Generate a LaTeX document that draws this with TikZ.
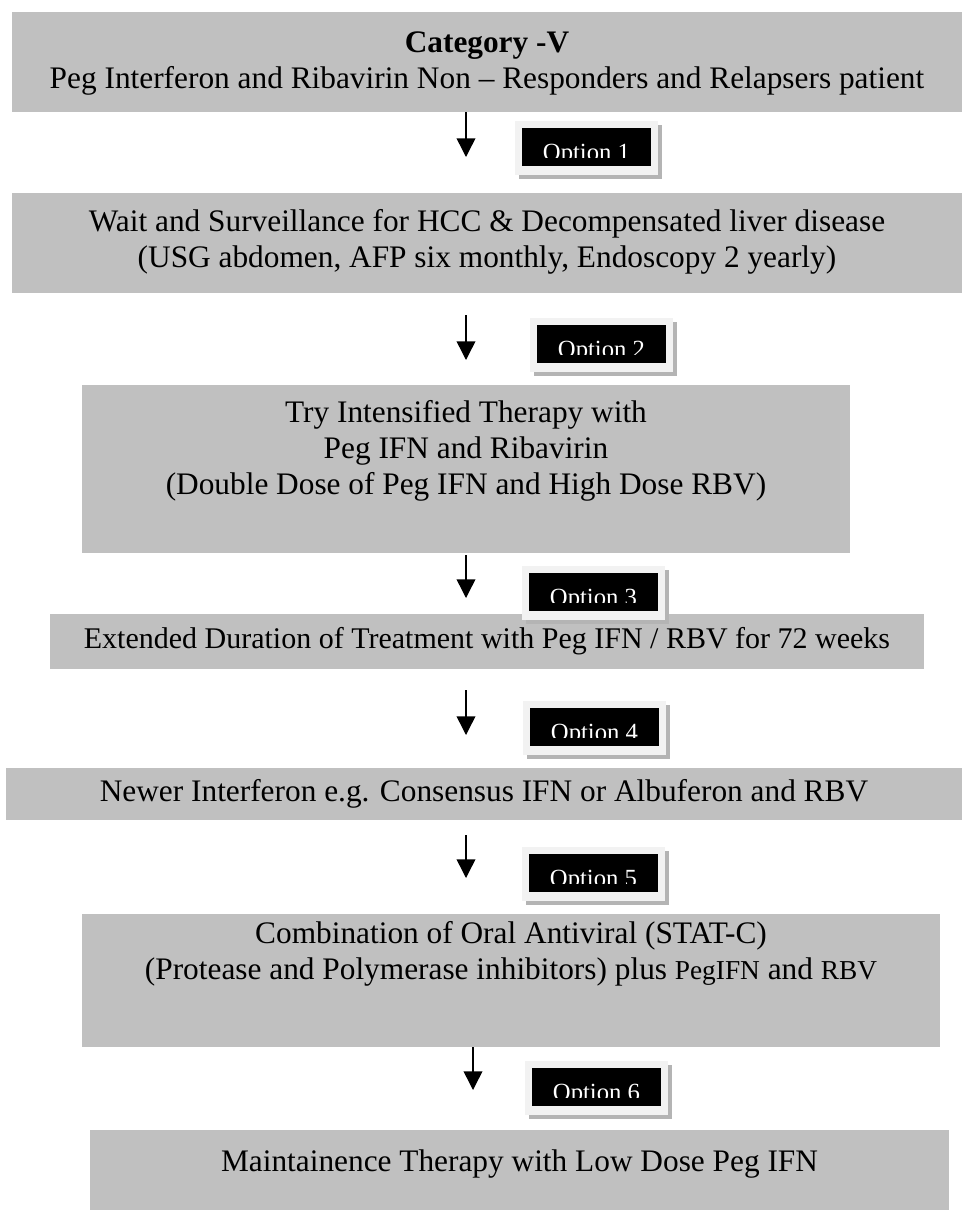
\documentclass[tikz,border=0pt]{standalone}
\usepackage{fontspec}
\setmainfont{Liberation Serif}
\usetikzlibrary{arrows.meta,positioning}
\definecolor{boxgray}{HTML}{C0C0C0}
\definecolor{optlt}{HTML}{F2F2F2}
\definecolor{optshd}{HTML}{B4B4B4}
\newcommand{\pxl}[1]{#1*0.75pt}
\newcommand{\bodyfont}{\fontsize{23.5}{27}\selectfont}
\newcommand{\extfont}{\fontsize{22.5}{27}\selectfont}
\newcommand{\smlfont}{\fontsize{20.5}{27}\selectfont}
\newcommand{\optfont}{\fontsize{18.5}{20}\selectfont}
\tikzset{
  box/.style={fill=boxgray,inner sep=0pt,align=center,font=\bodyfont},
  txt/.style={inner sep=0pt,align=center,font=\bodyfont},
  optframe/.style={fill=optlt,inner sep=0pt,minimum width=\pxl{143},minimum height=\pxl{54},anchor=north west},
  optblack/.style={fill=black,inner sep=0pt,minimum width=\pxl{129},minimum height=\pxl{38},anchor=north west},
  opttxt/.style={font=\optfont,text=white,anchor=base,inner sep=0pt},
  ar/.style={-{Triangle[length=14pt,width=14pt]},line width=1.1pt},
}

\begin{document}
\begin{tikzpicture}[x=0.75pt,y=-0.75pt]
\useasboundingbox (0,0) rectangle (962,1211);
% grey steps
\node[box,minimum width=\pxl{950},minimum height=\pxl{100}] (cat) at (487,62) {};
\node[txt] (cat-t) at (487,64) {\textbf{Category -V}\\Peg Interferon and Ribavirin Non – Responders and Relapsers patient};
\node[box,minimum width=\pxl{950},minimum height=\pxl{100}] (wait) at (487,243) {};
\node[txt] (wait-t) at (487,242) {Wait and Surveillance for HCC \& Decompensated liver disease\\(USG abdomen, AFP six monthly, Endoscopy 2 yearly)};
\node[box,minimum width=\pxl{768},minimum height=\pxl{168}] (try) at (466,469) {};
\node[txt] (try-t) at (466,451) {Try Intensified Therapy with\\Peg IFN and Ribavirin\\(Double Dose of Peg IFN and High Dose RBV)};
\node[box,minimum width=\pxl{874},minimum height=\pxl{55},font=\extfont] (ext) at (487,641.5) {Extended Duration of Treatment with Peg IFN / RBV for 72 weeks};
\node[box,minimum width=\pxl{956},minimum height=\pxl{52}] (newer) at (484,794) {Newer Interferon e.g. Consensus IFN or Albuferon and RBV};
\node[box,minimum width=\pxl{858},minimum height=\pxl{133}] (combo) at (511,980.5) {};
\node[txt] (combo-t) at (511,954) {Combination of Oral Antiviral (STAT-C)\\(Protease and Polymerase inhibitors) plus {\smlfont PegIFN} and {\smlfont RBV}};
\node[box,minimum width=\pxl{859},minimum height=\pxl{80}] (maint) at (519.5,1170) {};
\node[txt] (maint-t) at (519.5,1164) {Maintainence Therapy with Low Dose Peg IFN};
% arrows
\coordinate (e1) at (466,157);
\draw[ar] (cat.south -| e1) -- (e1);
\foreach \n/\ys/\ye in {2/315/360,3/555/598,4/690/735,5/835/878}{
  \coordinate (s\n) at (466,\ys);
  \coordinate (e\n) at (466,\ye);
  \draw[ar] (s\n) -- (e\n);
}
\coordinate (e6) at (473,1090);
\draw[ar] (combo.south -| e6) -- (e6);
% option tags
\foreach \n/\x/\y in {1/515/121,2/530/318,3/522/566,4/523/701,5/522/847,6/525/1061}{
  \fill[optshd] (\x+4,\y+4) rectangle (\x+147,\y+58);
  \node[optframe] (opt\n) at (\x,\y) {};
  \node[optblack] (optb\n) at (\x+7,\y+7) {};
  \begin{scope}
    \clip (\x+7,\y+7) rectangle (\x+136,\y+36);
    \node[opttxt] (optt\n) at (\x+71.5,\y+39) {Option \n};
  \end{scope}
}
\end{tikzpicture}
\end{document}
